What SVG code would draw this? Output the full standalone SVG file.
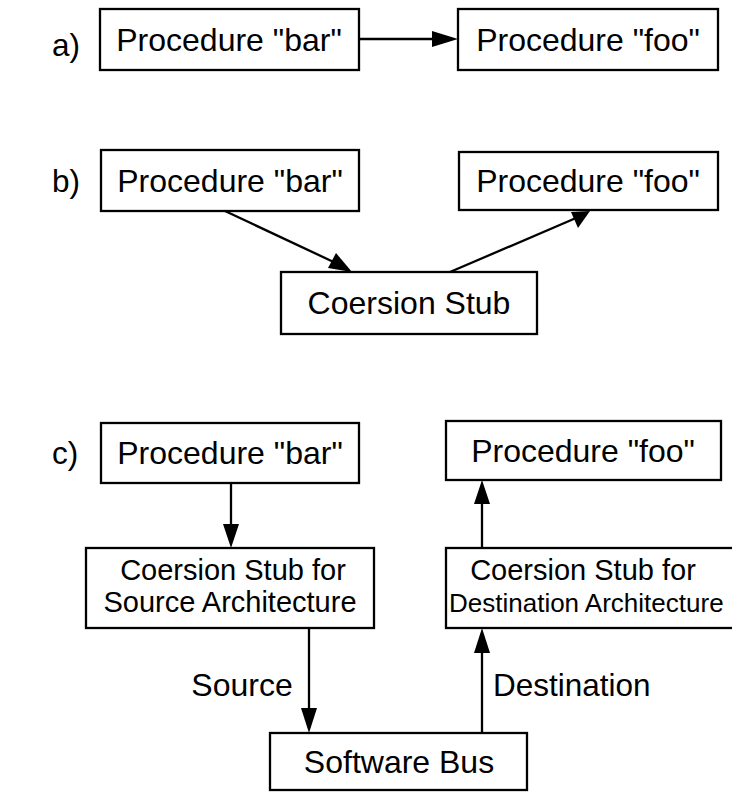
<svg xmlns="http://www.w3.org/2000/svg" width="732" height="793" viewBox="0 0 732 793">
<style>
.box{fill:#fff;stroke:#000;stroke-width:2.3}
.ln{stroke:#000;stroke-width:2.3;fill:none}
.hd{fill:#000}
text{font-family:"Liberation Sans",Arial,sans-serif;fill:#000}
.big{font-size:32px;text-anchor:middle}
.sm{font-size:29px;text-anchor:middle}
.lbl{font-size:31.5px}
</style>
<rect width="732" height="793" fill="#fff"/>
<g id="labels">
<text class="lbl" x="52" y="56">a)</text>
<text class="lbl" x="52" y="192">b)</text>
<text class="lbl" x="52" y="464">c)</text>
</g>
<g id="a-bar"><rect class="box" x="100" y="9" width="259" height="61"/><text class="big" x="229" y="51">Procedure "bar"</text></g>
<g id="a-foo"><rect class="box" x="458" y="9" width="260" height="61"/><text class="big" x="588" y="51">Procedure "foo"</text></g>
<g id="b-bar"><rect class="box" x="101" y="150" width="258" height="61"/><text class="big" x="230" y="192">Procedure "bar"</text></g>
<g id="b-foo"><rect class="box" x="459" y="152" width="259" height="58"/><text class="big" x="588" y="192">Procedure "foo"</text></g>
<g id="b-stub"><rect class="box" x="281" y="272" width="256" height="62"/><text class="big" x="409" y="314">Coersion Stub</text></g>
<g id="c-bar"><rect class="box" x="101" y="423" width="258" height="60"/><text class="big" x="230" y="464">Procedure "bar"</text></g>
<g id="c-foo"><rect class="box" x="446" y="421" width="275" height="59"/><text class="big" x="583" y="462">Procedure "foo"</text></g>
<g id="c-src"><rect class="box" x="86" y="548" width="288" height="80"/><text class="sm" x="233" y="580">Coersion Stub for</text><text class="sm" x="230" y="612">Source Architecture</text></g>
<g id="c-dst"><rect class="box" x="446" y="548" width="300" height="80"/><text class="sm" x="583" y="580">Coersion Stub for</text><text x="449" y="612" font-size="26">Destination Architecture</text></g>
<g id="c-bus"><rect class="box" x="270" y="733" width="257" height="57"/><text class="big" x="399" y="773">Software Bus</text></g>
<g id="connectors">
<line class="ln" x1="359" y1="39" x2="440" y2="39"/><polygon class="hd" points="458,39 432,31 432,47"/>
<line class="ln" x1="225" y1="211" x2="340" y2="265"/><polygon class="hd" points="352,272 328,268 336,253"/>
<line class="ln" x1="450" y1="272" x2="576" y2="218"/><polygon class="hd" points="590,211 578,228 571,212"/>
<line class="ln" x1="231" y1="483" x2="231" y2="530"/><polygon class="hd" points="231,548 223,524 239,524"/>
<line class="ln" x1="482" y1="548" x2="482" y2="498"/><polygon class="hd" points="482,480 474,504 490,504"/>
<line class="ln" x1="309" y1="628" x2="309" y2="715"/><polygon class="hd" points="309,733 301,708 317,708"/>
<line class="ln" x1="482" y1="733" x2="482" y2="646"/><polygon class="hd" points="482,628 474,653 490,653"/>
<text class="big" x="242" y="696">Source</text>
<text class="lbl" x="493" y="696">Destination</text>
</g>
</svg>
